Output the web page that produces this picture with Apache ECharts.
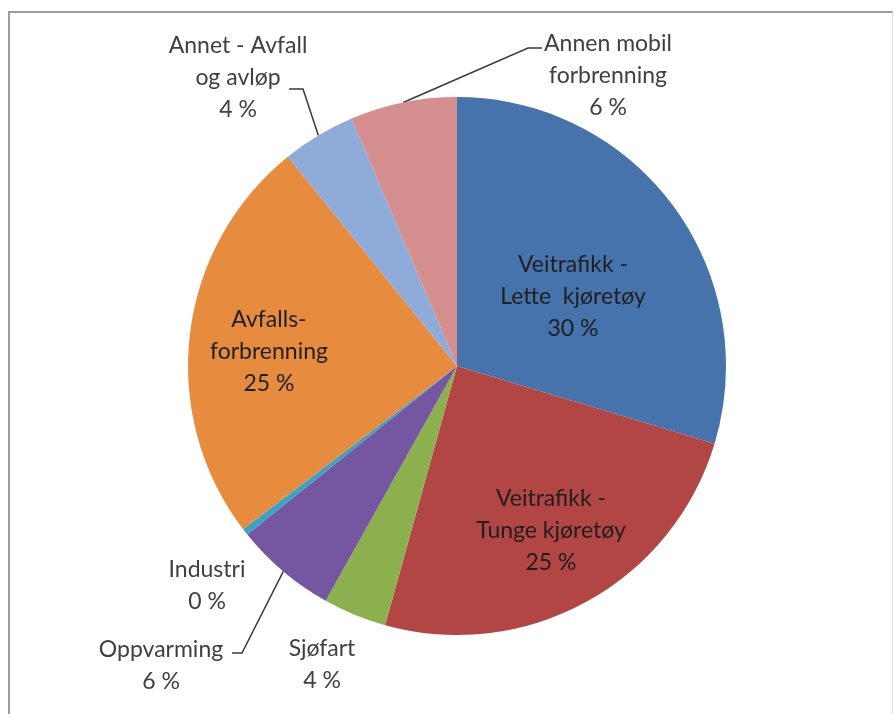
<!DOCTYPE html>
<html>
<head>
<meta charset="utf-8">
<script src="https://cdn.jsdelivr.net/npm/echarts@6/dist/echarts.min.js"></script>
<style>
html, body { margin: 0; padding: 0; background: #fff; }
#frame {
  position: absolute; left: 8px; top: 11px; width: 882px; height: 720px;
  border-top: 2px solid #9c9c9c; border-left: 2px solid #9c9c9c; border-right: 1px solid #e2e2e2;
}
#chart { position: absolute; left: 0; top: 0; width: 895px; height: 714px; }
</style>
</head>
<body>
<div id="frame"></div>
<div id="chart"></div>
<script>
// kategorier (med linjeskift slik de vises i etikettene)
const categories = [
  "Veitrafikk -\nLette  kjøretøy",
  "Veitrafikk -\nTunge kjøretøy",
  "Sjøfart",
  "Oppvarming",
  "Industri",
  "Avfalls-\nforbrenning",
  "Annet - Avfall\nog avløp",
  "Annen mobil\nforbrenning"
];
// andel i prosent
const values = [29.6, 24.6, 3.8, 6.1, 0.4, 24.5, 4.4, 6.4];

const colors = ["#4673ab", "#b24645", "#8bb04d", "#7556a0", "#3ba3c2", "#e78b3e", "#8eabd9", "#d58f8e"];
// etikett inne i sektoren?
const inside = [true, true, false, false, false, true, false, false];
// har ledelinje?
const leader = [false, false, false, true, false, false, true, true];

// midtpunkt for tekstblokkene
const labelPos = [[573, 297], [551, 531], [322, 665], [161, 666], [207, 586], [269, 352], [238, 78], [608, 76]];
// knekk- og endepunkt for ledelinjene
const linePts = {
  3: [[242, 653], [232, 653]],
  6: [[303, 89], [289, 89]],
  7: [[528, 48], [542, 48]]
};

const center = [457, 366];
const radius = 269;

function edgePoint(i) {
  const total = values.reduce((a, b) => a + b, 0);
  let acc = 0;
  for (let k = 0; k < i; k++) acc += values[k];
  const a = (acc + values[i] / 2) / total * Math.PI * 2;
  return [center[0] + radius * Math.sin(a), center[1] - radius * Math.cos(a)];
}

const chart = echarts.init(document.getElementById("chart"));

chart.setOption({
  animation: false,
  series: [
    {
      type: "pie",
      center: center,
      radius: radius,
      startAngle: 90,
      clockwise: true,
      avoidLabelOverlap: false,
      itemStyle: { borderWidth: 0 },
      emphasis: { disabled: true },
      label: {
        fontFamily: "Lato",
        fontSize: 23,
        lineHeight: 32,
        align: "center",
        formatter: p => p.name + "\n" + Math.round(p.percent) + " %"
      },
      labelLine: {
        lineStyle: { color: "#3a3a3a", width: 1.5 }
      },
      labelLayout: function (p) {
        const pos = labelPos[p.dataIndex];
        const res = { x: pos[0], y: pos[1], align: "center", verticalAlign: "middle" };
        const lp = linePts[p.dataIndex];
        if (lp) {
          const start = edgePoint(p.dataIndex);
          res.labelLinePoints = [start].concat(lp);
        }
        return res;
      },
      data: categories.map((name, i) => ({
        name: name,
        value: values[i],
        itemStyle: { color: colors[i] },
        label: {
          position: inside[i] ? "inside" : "outside",
          color: inside[i] ? "#1f1f1f" : "#404040"
        },
        labelLine: { show: leader[i] }
      }))
    }
  ]
});
</script>
</body>
</html>
